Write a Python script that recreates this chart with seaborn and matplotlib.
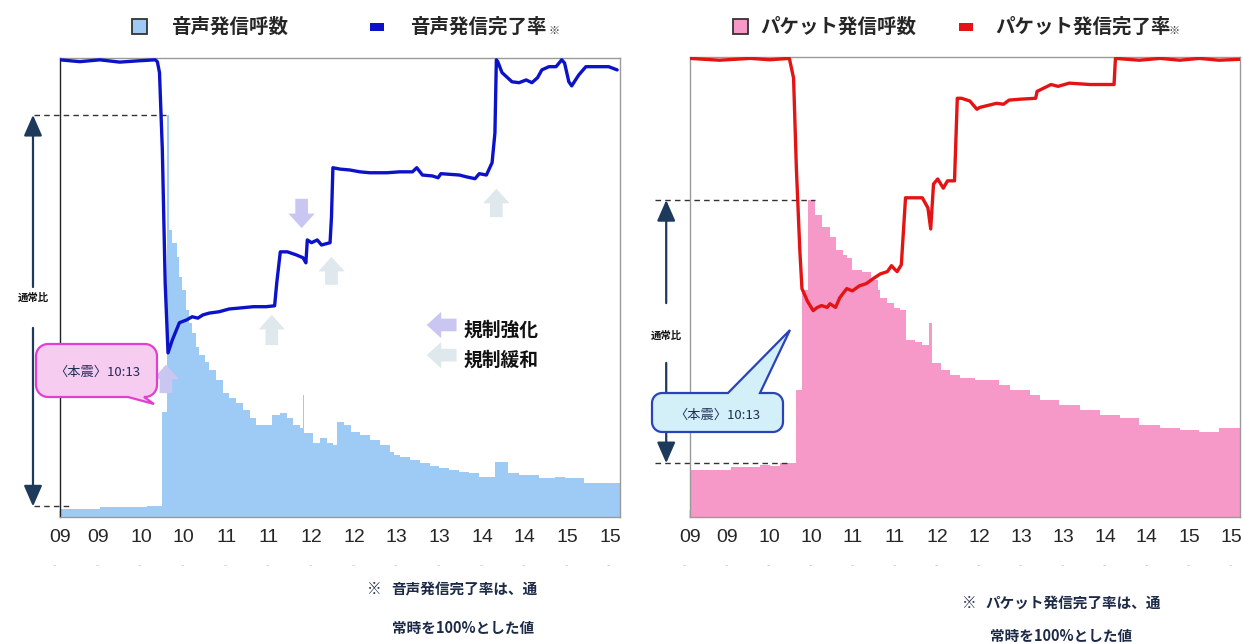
import numpy as np
import matplotlib.pyplot as plt
import matplotlib.transforms as mtransforms
from matplotlib.patches import Rectangle, Polygon
import seaborn as sns

# all times are minutes after 09:00

# voice: call volume steps (start of each step) and values (share of axis height)
voice_call_start = [0, 28, 61, 72, 75, 77, 79, 82, 84, 86, 89, 91, 93, 96, 98, 102, 105, 110, 115, 119,
                    124, 129, 134, 138, 149, 155, 160, 164, 169, 171, 172, 178, 183, 188, 192, 195, 200,
                    205, 211, 218, 225, 232, 235, 239, 246, 253, 260, 267, 274, 281, 288, 295, 306, 315,
                    323, 337, 348, 355, 369]
voice_call_val = [1.7, 2.1, 2.3, 22.9, 87.6, 62.5, 59.7, 56.6, 52.3, 49.5, 45.1, 42.3, 40.1, 37.0, 35.3,
                  33.8, 32.0, 29.8, 27.0, 25.9, 24.8, 23.3, 21.6, 20.0, 22.2, 22.7, 21.6, 20.0, 19.4, 26.6,
                  18.3, 16.1, 17.2, 16.1, 15.7, 20.7, 20.0, 18.5, 17.9, 16.8, 15.7, 14.2, 13.5, 13.1, 12.4,
                  11.8, 11.2, 10.7, 10.2, 9.8, 9.6, 8.7, 12.0, 9.6, 9.2, 8.5, 8.7, 8.5, 7.4]
voice_end = 394

# voice: completion rate (%)
voice_rate_t = [0, 14, 28, 42, 56, 67, 68.5, 70, 72, 74, 76, 79, 84, 89, 93, 97, 100.5, 105, 112, 119,
                126, 136, 145, 151, 152.5, 155, 160, 166.5, 171, 173, 174, 177, 181, 184, 190, 191, 192,
                197, 204, 211, 218, 230, 239, 248, 251, 255, 262, 266, 268, 281, 286, 292, 295, 300, 304,
                306, 307, 308, 311, 318, 323, 328, 332, 336, 339, 344, 349, 353, 355, 358, 360, 365, 370,
                379, 386, 392]
voice_rate_v = [100, 99.6, 100, 99.5, 99.8, 100, 99.6, 97.2, 80.3, 51.2, 35.9, 38.7, 42.5, 43.1, 43.8,
                43.5, 44.2, 44.6, 44.9, 45.5, 45.7, 46.0, 46.0, 46.2, 51.2, 58.0, 58.0, 57.3, 56.7, 55.6,
                60.6, 60.0, 60.6, 59.5, 60.0, 65.6, 76.4, 76.1, 75.9, 75.5, 75.3, 75.3, 75.5, 75.5, 76.4,
                74.8, 74.6, 74.2, 75.1, 74.8, 74.4, 74.0, 75.1, 74.8, 77.5, 84.0, 100, 99.6, 97.2, 95.2,
                95.0, 95.6, 95.0, 96.1, 97.8, 98.5, 98.5, 100, 99.3, 95.2, 94.3, 96.7, 98.5, 98.5, 98.5,
                97.8]

# packet: call volume
packet_call_start = [0, 29, 50, 57, 64, 76, 80, 84, 89, 94, 100, 104, 109, 112, 116, 123, 129, 134, 136,
                     141, 146, 150, 154, 161, 166, 171, 173, 179, 186, 193, 204, 221, 229, 243, 250, 264,
                     279, 293, 307, 321, 336, 350, 364, 378]
packet_call_val = [10.2, 10.9, 11.3, 11.0, 11.7, 27.6, 49.3, 68.9, 65.7, 63.0, 60.9, 58.0, 57.0, 56.3,
                   53.7, 53.3, 51.5, 49.3, 47.6, 46.5, 45.4, 45.0, 38.5, 38.0, 37.4, 42.2, 33.5, 32.0,
                   30.9, 30.2, 29.8, 28.7, 27.6, 26.5, 25.4, 24.3, 23.3, 22.2, 21.5, 20.0, 19.3, 18.9,
                   18.5, 19.3]
packet_end = 393

# packet: completion rate (%)
packet_rate_t = [0, 21, 43, 57, 71, 74, 76, 78.5, 80, 84, 88, 91, 94, 98, 100, 104, 107, 112, 116, 121,
                 126, 131, 136, 141, 144, 146, 148, 151, 154, 166, 170, 172, 174, 177, 181, 184, 189, 191,
                 194, 200, 205, 207, 219, 224, 228, 236, 247, 248, 258, 263, 271, 286, 294, 303, 304, 321,
                 336, 350, 364, 378, 393]
packet_rate_v = [100, 99.6, 100, 99.7, 100, 95.7, 76.1, 58.0, 49.8, 47.0, 45.0, 45.7, 46.1, 45.7, 46.5,
                 45.7, 47.8, 49.8, 49.3, 50.4, 50.9, 52.0, 53.0, 53.5, 54.8, 54.1, 53.5, 55.0, 69.6, 69.6,
                 67.4, 62.8, 72.6, 73.7, 71.7, 73.3, 73.3, 91.3, 91.3, 90.7, 88.9, 89.3, 90.2, 90.0, 90.9,
                 91.1, 91.3, 92.8, 94.3, 93.9, 94.6, 94.3, 94.3, 94.3, 100, 99.6, 100, 99.6, 100, 99.6,
                 99.8]

quake_label = "〈本震〉10:13"

BLUE_BAR = "#9ecbf5"
BLUE_LINE = "#0c12c8"
PINK_BAR = "#f799c8"
RED_LINE = "#e41414"
NAVY = "#1d3a5c"
TIGHT = "#c9c7f2"
EASE = "#dfe8ec"
TICK_FONT = ["Liberation Sans", "DejaVu Sans"]

sns.set_theme(style="white")
plt.rcParams["font.family"] = ["Noto Sans CJK JP", "DejaVu Sans"]

W, H = 1244, 643
fig = plt.figure(figsize=(W / 100, H / 100), dpi=100)
# pixel coords, y pointing down, for the page-level decorations
px = mtransforms.Affine2D().scale(1 / W, -1 / H).translate(0, 1) + fig.transFigure

ax_v = fig.add_axes([60 / W, 1 - 517 / H, 560 / W, 459 / H])
ax_p = fig.add_axes([690 / W, 1 - 517 / H, 550 / W, 460 / H])


def draw_panel(ax, starts, vals, end, rate_t, rate_v, bar_color, line_color, rate_top, lab_shift):
    edges = starts + [end]
    sns.histplot(x=starts, weights=vals, bins=edges, element="step", fill=True,
                 color=bar_color, alpha=1, linewidth=0, edgecolor=bar_color, ax=ax)
    ax2 = ax.twinx()
    sns.lineplot(x=rate_t, y=rate_v, color=line_color, linewidth=2.4, estimator=None, ax=ax2)
    for a in (ax, ax2):
        a.set_xlabel("")
        a.set_ylabel("")
        a.set_yticks([])
    ticks = list(range(0, end, 30))
    # tick marks on the half hours, hour labels sit a little to the left of them
    ax.xaxis.remove_overlapping_locs = False
    ax.set_xticks(ticks)
    ax.set_xticklabels([])
    ax.set_xticks([max(t - lab_shift, 0) for t in ticks], minor=True)
    ax.set_xticklabels([f"{9 + t // 60:02d}" for t in ticks], minor=True, fontsize=14, family=TICK_FONT)
    ax.tick_params(axis="x", which="major", direction="in", length=5, width=1, color="#555", bottom=True)
    ax.tick_params(axis="x", which="minor", length=0, pad=9, bottom=True)
    ax.set_xlim(0, end)
    ax.set_ylim(0, 100)
    ax2.set_ylim(0, rate_top)
    for s in ax2.spines.values():
        s.set_visible(False)
    for side in ["top", "right", "bottom", "left"]:
        ax.spines[side].set_color("#9a9a9a")
        ax.spines[side].set_linewidth(1)
    # faint marks below the hour labels
    for t in ticks:
        ax.text(t - 4, -0.105, "-", transform=ax.get_xaxis_transform(), ha="center", va="center",
                fontsize=7, color="#c4c4c4", family=TICK_FONT, clip_on=False)
    return ax2


def ratio_marker(ax, starts, vals, quake, x_dash, base_end, x_arrow, label_v, gap_up, gap_dn):
    i = int(np.argmax(vals))
    peak = vals[i]
    peak_end = (starts + [None])[i + 1]
    base = max(v for s, v in zip(starts, vals) if s < quake)
    dash = dict(color="#333333", lw=1, ls=(0, (4, 3)), clip_on=False, scalex=False, scaley=False)
    ax.plot([x_dash, peak_end], [peak, peak], **dash)
    ax.plot([x_dash, base_end], [base, base], **dash)
    head = dict(arrowstyle="-|>,head_length=0.8,head_width=0.35", color=NAVY, lw=1.6,
                mutation_scale=16, shrinkA=0, shrinkB=0)
    ax.annotate("", xy=(x_arrow, peak), xytext=(x_arrow, label_v + gap_up),
                arrowprops=head, annotation_clip=False)
    ax.annotate("", xy=(x_arrow, base), xytext=(x_arrow, label_v - gap_dn),
                arrowprops=head, annotation_clip=False)
    ax.text(x_arrow, label_v, "通常比", ha="center", va="center", fontsize=7.5,
            fontweight="bold", color="#111111", clip_on=False)


def block_arrow(ax, tail, tip, color):
    ax.annotate("", xy=tip, xytext=tail,
                arrowprops=dict(arrowstyle="simple,head_length=0.55,head_width=1.0,tail_width=0.48",
                                mutation_scale=19, color=color, lw=0, shrinkA=0, shrinkB=0))


def bubble(x0, y0, x1, y1, r, side, a, b, tip):
    def arc(cx, cy, t0, t1):
        t = np.radians(np.linspace(t0, t1, 9))
        return list(zip(cx + r * np.cos(t), cy + r * np.sin(t)))
    pts = arc(x0 + r, y0 + r, 180, 270)
    if side == "top":
        pts += [(a, y0), tip, (b, y0)]
    pts += arc(x1 - r, y0 + r, 270, 360)
    pts += arc(x1 - r, y1 - r, 0, 90)
    if side == "bottom":
        pts += [(b, y1), tip, (a, y1)]
    pts += arc(x0 + r, y1 - r, 90, 180)
    return pts


ax_v2 = draw_panel(ax_v, voice_call_start, voice_call_val, voice_end,
                   voice_rate_t, voice_rate_v, BLUE_BAR, BLUE_LINE, 100.4, 3)
ax_p2 = draw_panel(ax_p, packet_call_start, packet_call_val, packet_end,
                   packet_rate_t, packet_rate_v, PINK_BAR, RED_LINE, 100.3, 3.5)
ax_v.spines["left"].set_color("#222222")

ratio_marker(ax_v, voice_call_start, voice_call_val, 72, -18, 8, -19, 47.7, 2.4, 6.5)
ratio_marker(ax_p, packet_call_start, packet_call_val, 76, -25, 71, -17, 39.3, 7.2, 5.8)

# regulation arrows (強化 = tighten, 緩和 = ease)
block_arrow(ax_v2, (74.5, 27.1), (74.5, 33.3), TIGHT)
block_arrow(ax_v2, (170, 69.6), (170, 63.2), TIGHT)
block_arrow(ax_v2, (149, 37.6), (149, 44.2), EASE)
block_arrow(ax_v2, (191, 50.8), (191, 56.9), EASE)
block_arrow(ax_v2, (307, 65.6), (307, 71.8), EASE)
block_arrow(ax_v2, (279, 42.0), (258, 42.0), TIGHT)
block_arrow(ax_v2, (279, 35.4), (258, 35.4), EASE)
ax_v2.text(284, 40.9, "規制強化", ha="left", va="center", fontsize=13.5, fontweight="bold", color="#111111")
ax_v2.text(284, 34.4, "規制緩和", ha="left", va="center", fontsize=13.5, fontweight="bold", color="#111111")

# callouts
fig.add_artist(Polygon(bubble(36, 344, 157, 397, 12, "bottom", 128, 144, (154, 404)), closed=True,
                       transform=px, facecolor="#f6ccf1", edgecolor="#e03fcf", lw=1.6, zorder=5))
fig.text(97, 372, quake_label, transform=px, ha="center", va="center", fontsize=9.5,
         color="#1f2f55", zorder=6)
fig.add_artist(Polygon(bubble(652, 393, 783, 432, 10, "top", 728, 760, (790, 330)), closed=True,
                       transform=px, facecolor="#d3f0f8", edgecolor="#2a43b8", lw=1.6, zorder=5))
fig.text(717, 415, quake_label, transform=px, ha="center", va="center", fontsize=9.5,
         color="#1f2f55", zorder=6)

# legends
fig.add_artist(Rectangle((132, 19), 15, 15, transform=px, facecolor=BLUE_BAR, edgecolor="#333", lw=1.3))
fig.text(171, 27, "音声発信呼数", transform=px, ha="left", va="center", fontsize=14, fontweight="bold")
fig.add_artist(Rectangle((370, 23), 14, 8, transform=px, facecolor=BLUE_LINE, edgecolor="none"))
fig.text(410, 27, "音声発信完了率", transform=px, ha="left", va="center", fontsize=14, fontweight="bold")
fig.text(549, 31, "※", transform=px, ha="left", va="center", fontsize=8, color="#333")

fig.add_artist(Rectangle((733, 19), 15, 15, transform=px, facecolor=PINK_BAR, edgecolor="#333", lw=1.3))
fig.text(760, 27, "パケット発信呼数", transform=px, ha="left", va="center", fontsize=14, fontweight="bold")
fig.add_artist(Rectangle((959, 23), 14, 8, transform=px, facecolor=RED_LINE, edgecolor="none"))
fig.text(995, 27, "パケット発信完了率", transform=px, ha="left", va="center", fontsize=14, fontweight="bold")
fig.text(1169, 31, "※", transform=px, ha="left", va="center", fontsize=8, color="#333")

# footnotes
note = dict(transform=px, ha="left", va="center", fontsize=10.5, fontweight="bold", color="#1c2a48")
fig.text(367, 589, "※", **note)
fig.text(391, 589, "音声発信完了率は、通", **note)
fig.text(392, 628, "常時を100%とした値", **note)
fig.text(962, 603, "※", **note)
fig.text(985, 603, "パケット発信完了率は、通", **note)
fig.text(990, 636, "常時を100%とした値", **note)

fig.savefig("out.png", dpi=100, facecolor="white")
